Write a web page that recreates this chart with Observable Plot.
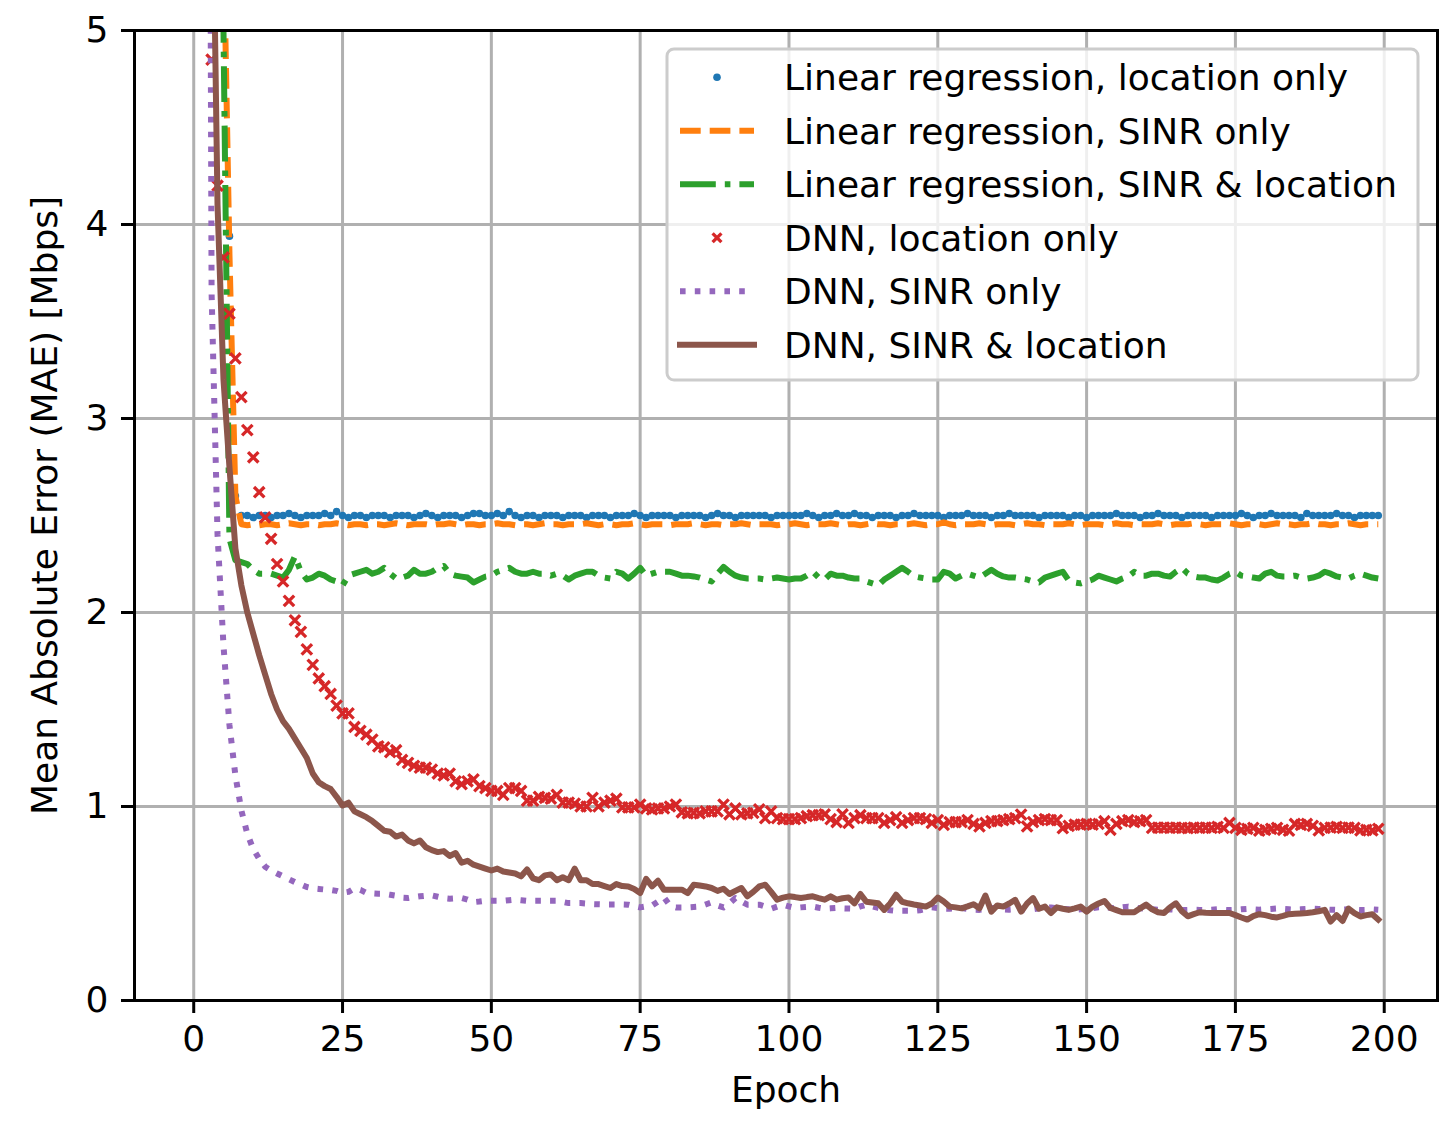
<!DOCTYPE html>
<html><head><meta charset="utf-8">
<script src="https://cdn.jsdelivr.net/npm/d3@7"></script>
<script src="https://cdn.jsdelivr.net/npm/@observablehq/plot@0.6"></script>
<style>body{margin:0;background:#fff;font-family:"DejaVu Sans";}</style>
</head><body><div id="chart"></div>
<script>
// Series: MAE per epoch (index = epoch 0..199)
const lrLocation = [
10.5,9.2,8.1,7.2,6.4,5.4,3.94,2.60,2.50,2.50,
2.49,2.50,2.50,2.49,2.50,2.50,2.51,2.50,2.49,2.50,
2.50,2.50,2.51,2.50,2.52,2.50,2.49,2.50,2.50,2.49,
2.50,2.50,2.50,2.49,2.50,2.50,2.50,2.49,2.50,2.51,
2.50,2.49,2.50,2.50,2.50,2.49,2.50,2.51,2.51,2.50,
2.50,2.51,2.50,2.52,2.50,2.49,2.50,2.50,2.49,2.50,
2.50,2.50,2.49,2.50,2.50,2.50,2.49,2.50,2.50,2.50,
2.49,2.50,2.50,2.50,2.51,2.50,2.49,2.50,2.50,2.50,
2.50,2.49,2.50,2.50,2.50,2.50,2.49,2.50,2.51,2.50,
2.50,2.49,2.50,2.50,2.50,2.50,2.50,2.49,2.50,2.50,
2.50,2.50,2.50,2.51,2.50,2.49,2.50,2.50,2.51,2.50,
2.50,2.51,2.50,2.50,2.49,2.50,2.50,2.50,2.49,2.50,
2.50,2.51,2.50,2.50,2.50,2.50,2.49,2.50,2.50,2.50,
2.51,2.50,2.50,2.50,2.49,2.50,2.50,2.51,2.50,2.50,
2.50,2.50,2.49,2.50,2.50,2.50,2.50,2.49,2.50,2.50,
2.49,2.50,2.50,2.50,2.50,2.51,2.50,2.50,2.50,2.49,
2.50,2.50,2.51,2.50,2.50,2.50,2.49,2.50,2.50,2.50,
2.50,2.49,2.50,2.50,2.50,2.50,2.51,2.50,2.49,2.50,
2.50,2.51,2.50,2.50,2.50,2.50,2.49,2.51,2.50,2.50,
2.50,2.50,2.51,2.50,2.50,2.49,2.50,2.50,2.50,2.50];

const lrSinr = [
12.0,10.4,9.0,7.8,6.7,5.5,3.85,2.60,2.455,2.45,
2.455,2.45,2.455,2.455,2.45,2.455,2.46,2.455,2.45,2.455,
2.455,2.45,2.455,2.455,2.46,2.455,2.45,2.455,2.455,2.45,
2.455,2.455,2.45,2.455,2.46,2.455,2.45,2.455,2.455,2.455,
2.45,2.455,2.455,2.46,2.455,2.45,2.455,2.455,2.45,2.455,
2.455,2.46,2.455,2.455,2.45,2.455,2.455,2.45,2.455,2.46,
2.455,2.455,2.45,2.455,2.455,2.455,2.46,2.455,2.45,2.455,
2.455,2.45,2.455,2.455,2.46,2.455,2.45,2.455,2.455,2.455,
2.45,2.455,2.455,2.455,2.46,2.455,2.45,2.455,2.455,2.45,
2.455,2.455,2.46,2.455,2.45,2.455,2.455,2.455,2.45,2.455,
2.455,2.46,2.455,2.45,2.455,2.455,2.455,2.46,2.455,2.45,
2.455,2.455,2.45,2.455,2.46,2.455,2.455,2.45,2.455,2.455,
2.455,2.46,2.455,2.45,2.455,2.455,2.465,2.455,2.45,2.455,
2.455,2.455,2.46,2.455,2.45,2.455,2.455,2.455,2.45,2.455,
2.46,2.455,2.455,2.45,2.455,2.455,2.455,2.46,2.455,2.45,
2.455,2.455,2.455,2.45,2.455,2.46,2.455,2.455,2.45,2.455,
2.455,2.455,2.46,2.455,2.45,2.455,2.455,2.455,2.46,2.455,
2.45,2.455,2.455,2.455,2.46,2.455,2.45,2.455,2.455,2.455,
2.45,2.455,2.46,2.455,2.455,2.45,2.455,2.455,2.46,2.455,
2.455,2.45,2.455,2.455,2.46,2.455,2.45,2.455,2.455,2.455];

const lrBoth = [
14.0,12.0,10.0,8.5,7.0,5.0,2.38,2.27,2.26,2.25,
2.22,2.20,2.20,2.20,2.19,2.18,2.22,2.29,2.21,2.17,
2.18,2.20,2.19,2.17,2.16,2.14,2.19,2.20,2.21,2.22,
2.20,2.21,2.23,2.20,2.175,2.18,2.19,2.22,2.20,2.20,
2.21,2.23,2.24,2.20,2.19,2.185,2.18,2.155,2.17,2.185,
2.19,2.21,2.22,2.23,2.21,2.20,2.20,2.21,2.20,2.20,
2.19,2.20,2.19,2.17,2.19,2.20,2.21,2.21,2.19,2.18,
2.175,2.21,2.20,2.175,2.20,2.23,2.19,2.20,2.21,2.21,
2.21,2.20,2.19,2.19,2.186,2.18,2.17,2.16,2.20,2.235,
2.21,2.19,2.18,2.175,2.175,2.175,2.17,2.175,2.18,2.175,
2.17,2.175,2.175,2.19,2.21,2.18,2.17,2.20,2.19,2.19,
2.18,2.175,2.175,2.16,2.15,2.14,2.17,2.19,2.21,2.23,
2.21,2.186,2.18,2.175,2.17,2.17,2.21,2.20,2.175,2.19,
2.20,2.19,2.18,2.20,2.22,2.20,2.186,2.18,2.18,2.175,
2.17,2.16,2.155,2.18,2.19,2.20,2.21,2.165,2.155,2.15,
2.16,2.17,2.19,2.18,2.17,2.16,2.175,2.186,2.21,2.19,
2.19,2.20,2.20,2.19,2.185,2.21,2.23,2.20,2.186,2.18,
2.18,2.17,2.165,2.18,2.20,2.21,2.19,2.186,2.18,2.175,
2.20,2.21,2.19,2.186,2.186,2.19,2.18,2.175,2.18,2.19,
2.21,2.20,2.186,2.18,2.175,2.19,2.20,2.19,2.18,2.175];

const dnnLocation = [
9.0,7.2,5.8,4.85,4.20,3.83,3.54,3.31,3.11,2.94,
2.80,2.62,2.49,2.38,2.25,2.16,2.06,1.96,1.90,1.81,
1.73,1.66,1.62,1.58,1.52,1.48,1.48,1.41,1.39,1.37,
1.345,1.31,1.305,1.28,1.29,1.24,1.225,1.21,1.20,1.20,
1.19,1.17,1.16,1.17,1.13,1.115,1.13,1.14,1.105,1.095,
1.08,1.08,1.06,1.095,1.095,1.08,1.03,1.03,1.05,1.045,
1.04,1.06,1.02,1.02,1.015,1.00,1.00,1.045,1.00,1.02,
1.03,1.04,0.995,0.995,0.995,1.01,0.99,0.985,0.99,0.99,
1.00,1.01,0.97,0.965,0.967,0.965,0.975,0.975,0.975,1.01,
0.96,0.99,0.96,0.965,0.967,0.985,0.94,0.975,0.94,0.935,
0.935,0.935,0.94,0.95,0.955,0.955,0.96,0.935,0.92,0.96,
0.915,0.94,0.955,0.94,0.94,0.94,0.915,0.93,0.945,0.915,
0.93,0.94,0.94,0.935,0.915,0.93,0.905,0.92,0.92,0.92,
0.93,0.91,0.897,0.915,0.925,0.925,0.93,0.935,0.94,0.958,
0.897,0.92,0.93,0.935,0.93,0.93,0.888,0.90,0.906,0.906,
0.91,0.906,0.91,0.924,0.88,0.91,0.924,0.93,0.92,0.924,
0.93,0.89,0.891,0.891,0.89,0.891,0.89,0.888,0.891,0.89,
0.891,0.89,0.895,0.89,0.915,0.89,0.88,0.885,0.89,0.875,
0.88,0.885,0.89,0.88,0.875,0.91,0.905,0.91,0.90,0.877,
0.89,0.891,0.895,0.89,0.891,0.89,0.877,0.88,0.877,0.885];

const dnnSinr = [
25.0,18.0,13.0,3.65,2.40,1.83,1.42,1.16,0.98,0.86,
0.78,0.73,0.69,0.67,0.655,0.64,0.625,0.61,0.598,0.585,
0.578,0.575,0.572,0.57,0.565,0.555,0.56,0.578,0.57,0.555,
0.552,0.55,0.55,0.545,0.54,0.53,0.528,0.533,0.537,0.54,
0.542,0.535,0.528,0.525,0.527,0.528,0.52,0.507,0.51,0.514,
0.514,0.514,0.514,0.517,0.52,0.517,0.514,0.514,0.514,0.514,
0.514,0.514,0.508,0.502,0.502,0.502,0.50,0.497,0.496,0.495,
0.495,0.495,0.495,0.494,0.487,0.48,0.485,0.49,0.51,0.531,
0.49,0.48,0.48,0.48,0.482,0.484,0.495,0.506,0.49,0.48,
0.50,0.528,0.51,0.494,0.494,0.494,0.484,0.473,0.484,0.494,
0.485,0.477,0.48,0.482,0.484,0.478,0.473,0.475,0.477,0.475,
0.474,0.473,0.485,0.494,0.485,0.477,0.47,0.465,0.462,0.462,
0.462,0.462,0.465,0.472,0.48,0.477,0.474,0.473,0.475,0.477,
0.472,0.468,0.467,0.472,0.477,0.475,0.47,0.468,0.47,0.472,
0.467,0.47,0.475,0.478,0.48,0.476,0.472,0.47,0.468,0.47,
0.473,0.476,0.48,0.482,0.478,0.476,0.48,0.484,0.48,0.475,
0.472,0.47,0.468,0.467,0.47,0.468,0.466,0.467,0.468,0.467,
0.466,0.468,0.47,0.468,0.466,0.467,0.47,0.472,0.47,0.468,
0.47,0.472,0.474,0.472,0.47,0.468,0.47,0.472,0.474,0.472,
0.47,0.468,0.467,0.468,0.47,0.468,0.466,0.467,0.47,0.468];

const dnnBoth = [
12.0,10.0,8.0,6.2,4.1,3.2,2.75,2.33,2.14,2.00,
1.89,1.78,1.68,1.58,1.50,1.44,1.40,1.35,1.30,1.25,
1.17,1.125,1.105,1.09,1.05,1.005,1.02,0.975,0.96,0.945,
0.925,0.90,0.875,0.87,0.845,0.855,0.825,0.81,0.825,0.79,
0.775,0.765,0.77,0.745,0.76,0.71,0.72,0.70,0.69,0.68,
0.67,0.68,0.665,0.66,0.655,0.64,0.675,0.63,0.62,0.645,
0.65,0.62,0.635,0.62,0.68,0.62,0.62,0.60,0.60,0.59,
0.58,0.60,0.59,0.588,0.575,0.554,0.627,0.588,0.617,0.571,
0.571,0.571,0.571,0.554,0.597,0.593,0.588,0.58,0.565,0.576,
0.549,0.565,0.58,0.537,0.56,0.588,0.597,0.56,0.52,0.53,
0.537,0.533,0.528,0.533,0.537,0.528,0.52,0.537,0.52,0.527,
0.531,0.501,0.549,0.509,0.505,0.501,0.467,0.50,0.545,0.509,
0.501,0.495,0.49,0.484,0.50,0.531,0.51,0.484,0.48,0.475,
0.485,0.496,0.475,0.541,0.458,0.49,0.484,0.50,0.519,0.458,
0.50,0.528,0.473,0.484,0.451,0.48,0.473,0.467,0.475,0.484,
0.458,0.484,0.50,0.513,0.477,0.466,0.455,0.455,0.455,0.475,
0.494,0.47,0.455,0.451,0.48,0.501,0.46,0.434,0.445,0.455,
0.452,0.451,0.451,0.451,0.451,0.44,0.428,0.417,0.435,0.445,
0.44,0.432,0.428,0.436,0.445,0.447,0.449,0.451,0.455,0.46,
0.467,0.407,0.44,0.41,0.474,0.45,0.433,0.44,0.445,0.417];

const seriesNames = [
  "Linear regression, location only",
  "Linear regression, SINR only",
  "Linear regression, SINR & location",
  "DNN, location only",
  "DNN, SINR only",
  "DNN, SINR & location"
];
const xTicks = [0, 25, 50, 75, 100, 125, 150, 175, 200];
const yTicks = [0, 1, 2, 3, 4, 5];
const xLabel = "Epoch";
const yLabel = "Mean Absolute Error (MAE) [Mbps]";

const colors = ["#1f77b4", "#ff7f0e", "#2ca02c", "#d62728", "#9467bd", "#8c564b"];
const LW = 6;
const dashes = [null, "20.7,9", "35.8,9,5.6,9", null, "5.6,9.2", null];

const rows = vals => vals.map((v, i) => ({epoch: i, mae: v}));

const lineOpts = k => ({
  x: "epoch", y: "mae", stroke: colors[k], strokeWidth: LW,
  strokeDasharray: dashes[k] || undefined,
  strokeLinecap: dashes[k] ? "butt" : "square",
  strokeLinejoin: "round", clip: true
});

const chart = Plot.plot({
  width: 1456, height: 1125,
  marginLeft: 134, marginRight: 19, marginTop: 30, marginBottom: 125,
  style: {fontFamily: "DejaVu Sans", fontSize: "36px", background: "white", color: "black"},
  x: {domain: [-9.95, 208.95]},
  y: {domain: [0, 5]},
  marks: [
    Plot.gridX(xTicks, {stroke: "#b0b0b0", strokeOpacity: 1, strokeWidth: 3}),
    Plot.gridY(yTicks, {stroke: "#b0b0b0", strokeOpacity: 1, strokeWidth: 3}),
    Plot.dot(rows(lrLocation), {x: "epoch", y: "mae", r: 3.8, fill: colors[0], stroke: "none", clip: true}),
    Plot.line(rows(lrSinr), lineOpts(1)),
    Plot.line(rows(lrBoth), lineOpts(2)),
    Plot.dot(rows(dnnLocation), {x: "epoch", y: "mae", symbol: "times", r: 4.8, stroke: colors[3], strokeWidth: 3.3, clip: true}),
    Plot.line(rows(dnnSinr), lineOpts(4)),
    Plot.line(rows(dnnBoth), lineOpts(5)),
    Plot.axisX(xTicks, {tickSize: 13, strokeWidth: 3, tickPadding: 12, fontSize: 36, label: null, stroke: "black", tickFormat: d => String(d)}),
    Plot.axisY(yTicks, {tickSize: 13, strokeWidth: 3, tickPadding: 13, fontSize: 36, label: null, stroke: "black", tickFormat: d => String(d)}),
    Plot.frame({stroke: "black", strokeWidth: 3}),
    Plot.text([xLabel], {frameAnchor: "bottom", dy: 90, fontSize: 36, lineAnchor: "middle", textAnchor: "middle", fill: "black"}),
    Plot.text([yLabel], {frameAnchor: "left", rotate: -90, dx: -89, dy: -10, fontSize: 36, lineAnchor: "middle", textAnchor: "middle", fill: "black"})
  ]
});
document.getElementById("chart").append(chart);

// Legend (inside the axes, upper right)
const svg = d3.select(chart);
const lg = svg.append("g").attr("font-family", "DejaVu Sans").attr("font-size", 36).attr("text-anchor", "start");
lg.append("rect").attr("x", 667).attr("y", 49).attr("width", 751).attr("height", 331)
  .attr("rx", 7).attr("fill", "white").attr("fill-opacity", 0.8)
  .attr("stroke", "#cccccc").attr("stroke-width", 3);
seriesNames.forEach((name, k) => {
  const cy = 77.3 + k * 53.5;
  if (k === 0) {
    lg.append("circle").attr("cx", 717).attr("cy", cy).attr("r", 3.8).attr("fill", colors[0]);
  } else if (k === 3) {
    const s = 4.4;
    lg.append("path").attr("d", `M${717 - s},${cy - s}L${717 + s},${cy + s}M${717 - s},${cy + s}L${717 + s},${cy - s}`)
      .attr("stroke", colors[3]).attr("stroke-width", 3.3);
  } else {
    lg.append("line").attr("x1", 680).attr("x2", 754).attr("y1", cy).attr("y2", cy)
      .attr("stroke", colors[k]).attr("stroke-width", LW)
      .attr("stroke-dasharray", dashes[k] || null)
      .attr("stroke-linecap", dashes[k] ? "butt" : "square");
  }
  lg.append("text").attr("x", 784).attr("y", cy + 13).attr("fill", "black").attr("text-anchor", "start").text(name);
});
</script>
</body></html>
